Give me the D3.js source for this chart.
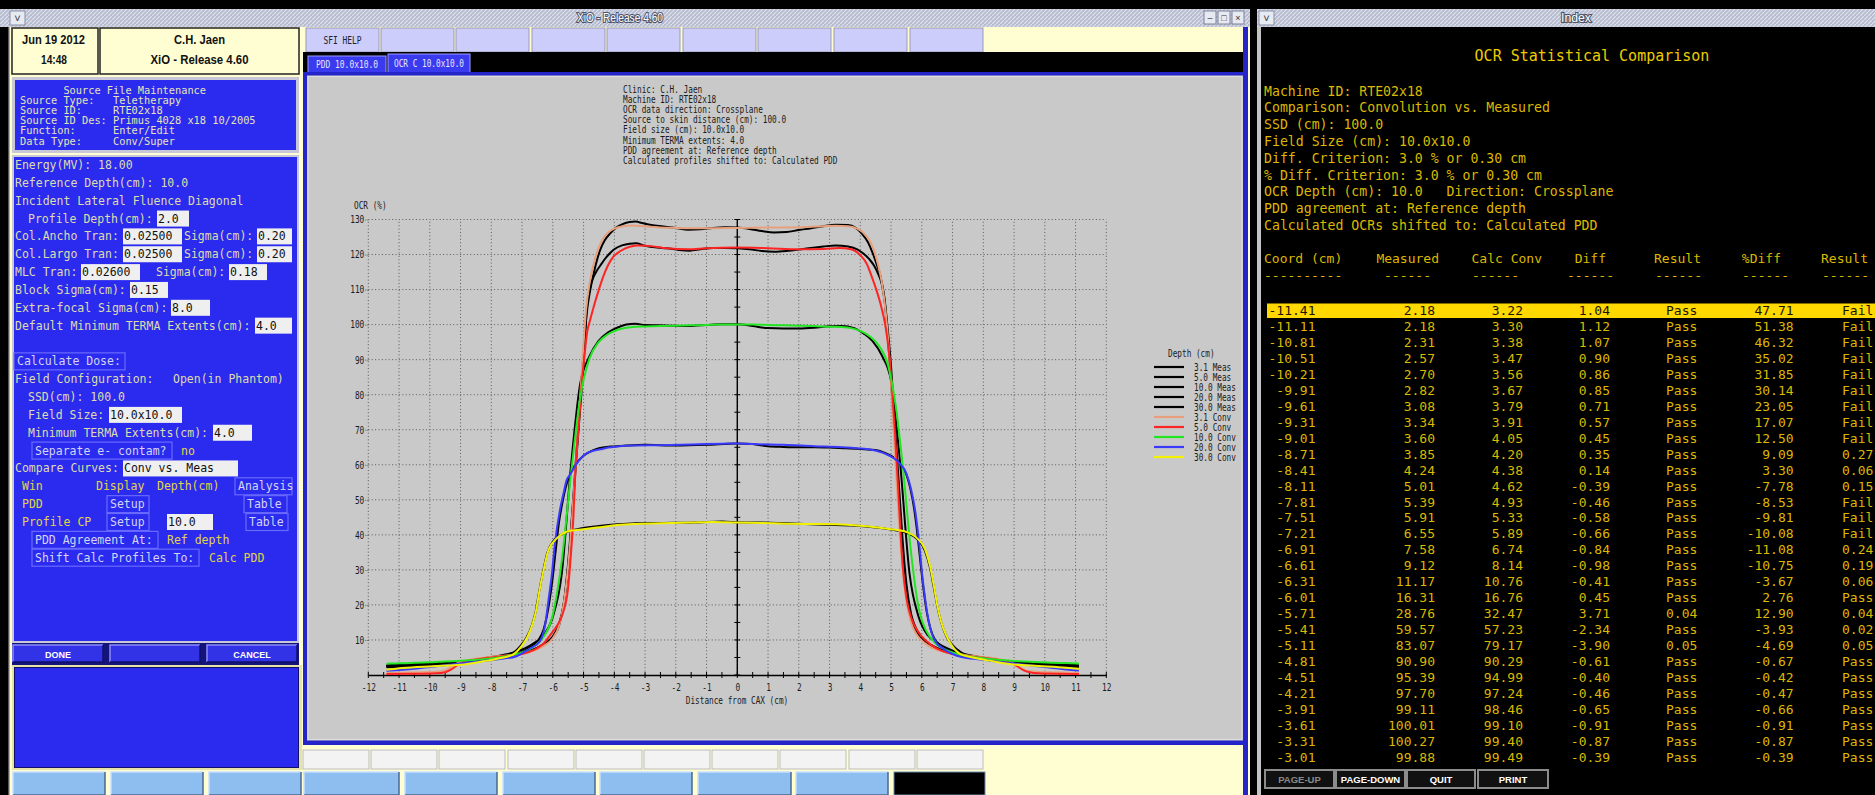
<!DOCTYPE html>
<html>
<head>
<meta charset="utf-8">
<script src="https://cdn.jsdelivr.net/npm/d3@7"></script>
<style>
  body { margin: 0; background: #000; overflow: hidden; }
  text { white-space: pre; }
</style>
</head>
<body>
<svg id="scr" width="1875" height="795"></svg>
<script>
// ---- chart data ----
var depthLabels = ["3.1", "5.0", "10.0", "20.0", "30.0"];
var convColors = ["#e8a07c", "#ff2424", "#22e622", "#3a3aff", "#f2f200"];

var meas31 = [[-11.41,2.6],[-10.8,2.9],[-10.2,3.1],[-9.6,3.4],[-9.0,3.8],[-8.4,4.4],[-7.8,5.1],[-7.4,5.6],[-7.0,6.3],[-6.6,7.4],[-6.3,8.8],[-6.0,11],[-5.8,14.5],[-5.65,20],[-5.5,32],[-5.38,45],[-5.25,61],[-5.12,77],[-5.0,92],[-4.9,103],[-4.78,110],[-4.67,114.6],[-4.56,118.5],[-4.46,121.3],[-4.3,124.2],[-4.14,126],[-3.95,127.6],[-3.75,128.6],[-3.5,129.3],[-3.3,129.4],[-3.1,129],[-2.8,128.4],[-2.4,128],[-2.0,127.6],[-1.6,127.1],[-1.2,127.2],[-0.8,127.6],[-0.4,127.8],[0,127.7],[0.4,127.3],[0.8,126.7],[1.2,126.3],[1.6,126.4],[2.0,127],[2.4,127.5],[2.8,128.1],[3.2,128.5],[3.6,128.4],[3.85,127.6],[4.05,126],[4.25,123.5],[4.4,120.5],[4.52,117.5],[4.65,114],[4.78,108],[4.9,98],[5.0,88],[5.12,72],[5.25,55],[5.38,38],[5.5,26],[5.65,17.5],[5.8,13.5],[6.0,10.8],[6.3,8.6],[6.6,7.3],[7.0,6.2],[7.4,5.5],[7.8,5.0],[8.4,4.3],[9.0,3.7],[9.6,3.3],[10.2,3.0],[10.8,2.7],[11.11,2.5]];
var conv31 = [[-11.41,0.6],[-10.6,0.7],[-9.8,0.9],[-9.5,1.3],[-9.3,2.4],[-9.1,3.4],[-8.8,4.2],[-8.4,4.8],[-8.0,5.2],[-7.5,5.6],[-7.0,6.1],[-6.6,7.0],[-6.3,8.3],[-6.0,10.5],[-5.8,14],[-5.65,20],[-5.5,31],[-5.38,44],[-5.25,61],[-5.12,78],[-5.02,92],[-4.92,104],[-4.8,112],[-4.68,117],[-4.55,121],[-4.4,124],[-4.2,126.3],[-4.0,127.4],[-3.7,128.1],[-3.4,128.3],[-3.0,128.0],[-2.5,127.7],[-2.0,127.6],[-1.0,127.5],[0,127.6],[1.0,127.7],[2.0,127.8],[2.6,128.0],[3.2,128.2],[3.6,128.1],[3.9,127.4],[4.1,126.2],[4.3,124],[4.45,121],[4.58,117],[4.7,112],[4.82,104],[4.92,94],[5.02,80],[5.12,64],[5.25,45],[5.38,30],[5.5,21],[5.65,15],[5.8,12],[6.0,9.8],[6.3,7.9],[6.6,6.9],[7.0,6.1],[7.5,5.6],[8.0,5.1],[8.4,4.7],[8.8,4.0],[9.0,3.2],[9.2,2.0],[9.4,1.3],[9.7,0.9],[10.5,0.7],[11.11,0.6]];
var meas50 = [[-11.41,2.5],[-10.8,2.8],[-10.2,3.0],[-9.6,3.3],[-9.0,3.7],[-8.4,4.3],[-7.8,5.0],[-7.4,5.5],[-7.0,6.2],[-6.6,7.3],[-6.3,8.6],[-6.0,10.8],[-5.8,14],[-5.65,20],[-5.5,31],[-5.38,44],[-5.25,60],[-5.12,75],[-5.02,86],[-4.89,105],[-4.78,110.8],[-4.67,113.7],[-4.56,115.5],[-4.46,116.8],[-4.3,118.8],[-4.15,120.3],[-4.0,121.5],[-3.75,122.6],[-3.5,123.1],[-3.3,123.2],[-3.0,122.5],[-2.6,122],[-2.3,121.8],[-1.9,121.3],[-1.54,121.1],[-1.2,121.5],[-0.8,121.9],[-0.4,121.9],[0,121.8],[0.4,121.5],[0.8,121.0],[1.2,120.8],[1.6,121.0],[2.0,121.4],[2.4,121.9],[2.8,122.3],[3.2,122.6],[3.6,122.3],[3.9,121.5],[4.1,120.3],[4.3,118.6],[4.45,116.8],[4.58,114.5],[4.7,111.5],[4.8,106],[4.9,96],[5.0,84],[5.12,68],[5.25,50],[5.38,34],[5.5,24],[5.65,16.5],[5.8,13],[6.0,10.5],[6.3,8.5],[6.6,7.2],[7.0,6.1],[7.4,5.4],[7.8,4.9],[8.4,4.2],[9.0,3.6],[9.6,3.2],[10.2,2.9],[10.8,2.6],[11.11,2.4]];
var conv50 = [[-11.41,0.3],[-10.5,0.35],[-9.8,0.5],[-9.5,0.8],[-9.3,1.6],[-9.1,2.8],[-8.9,3.7],[-8.5,4.4],[-8.0,5.0],[-7.5,5.5],[-7.0,6.0],[-6.65,7.0],[-6.3,9.0],[-6.0,12.4],[-5.8,15],[-5.67,17.7],[-5.51,24.3],[-5.4,35.7],[-5.33,45],[-5.26,59.4],[-5.15,72],[-5.05,84.2],[-4.97,91],[-4.89,97.5],[-4.78,101.5],[-4.67,105.1],[-4.52,109.5],[-4.36,113.7],[-4.2,117],[-4.03,119.4],[-3.8,121],[-3.5,122.2],[-3.2,122.6],[-2.8,122.4],[-2.3,121.8],[-1.6,121.5],[-1.0,121.8],[0,122],[1.0,121.8],[2.0,121.5],[2.8,121.6],[3.3,121.9],[3.7,121.5],[4.0,119.8],[4.2,117.5],[4.36,114],[4.52,110],[4.67,105.5],[4.8,100.5],[4.92,93],[5.02,83],[5.12,70],[5.22,55],[5.3,42],[5.38,31],[5.5,22],[5.65,16.5],[5.8,13.5],[6.0,11],[6.3,8.6],[6.65,6.9],[7.0,6.0],[7.5,5.4],[8.0,4.9],[8.5,4.3],[8.9,3.5],[9.1,2.5],[9.3,1.4],[9.5,0.8],[9.8,0.5],[10.5,0.35],[11.11,0.3]];
var meas10Rest = [[-2.6,99.8],[-2.2,99.7],[-1.8,99.6],[-1.4,99.7],[-1.0,99.9],[-0.5,100.1],[0,100.1],[0.5,99.6],[1.0,99.0],[1.5,98.9],[2.0,98.9],[2.5,99.1],[3.0,99.5],[3.4,99.6],[3.8,99.0],[4.1,97.5],[4.4,95.3],[4.7,91.2],[5.0,84],[5.3,60],[5.6,29],[5.9,16.5],[6.2,11.3],[6.5,9.2],[6.8,7.7],[7.1,6.6],[7.4,5.9],[7.7,5.4],[8.0,5.0],[8.3,4.3],[8.6,3.9],[8.9,3.6],[9.2,3.3],[9.5,3.1],[9.8,2.8],[10.1,2.7],[10.4,2.5],[10.7,2.3],[11.11,2.2]];
var conv10Rest = [[-2.5,99.6],[-2.0,99.7],[-1.5,99.8],[-1.0,99.9],[-0.5,100.0],[0,100.0],[0.5,100.0],[1.0,99.9],[1.5,99.8],[2.0,99.7],[2.5,99.6],[3.01,99.4],[3.4,99.3],[3.7,99.0],[4.0,98.2],[4.3,96.7],[4.6,94.0],[4.9,88.5],[5.15,77],[5.4,58],[5.65,35],[5.9,19],[6.15,12.5],[6.45,9.0],[6.75,7.3],[7.05,6.3],[7.4,5.5],[7.8,5.0],[8.2,4.6],[8.7,4.2],[9.2,3.9],[9.7,3.7],[10.2,3.5],[10.7,3.4],[11.11,3.3]];
var meas20 = [[-11.41,2.4],[-10.5,2.8],[-9.8,3.1],[-9.0,3.6],[-8.4,4.1],[-7.8,4.8],[-7.4,5.4],[-7.0,6.6],[-6.8,7.6],[-6.6,8.8],[-6.45,10.2],[-6.3,13],[-6.2,16.5],[-6.1,21.5],[-6.0,28],[-5.9,36],[-5.8,43.5],[-5.68,49.5],[-5.55,54.5],[-5.4,58],[-5.2,60.8],[-5.0,62.6],[-4.8,63.7],[-4.5,64.7],[-4.1,65.2],[-3.6,65.5],[-3.0,65.7],[-2.0,65.5],[-1.0,65.7],[0,66.1],[0.5,65.9],[1.0,65.3],[1.5,65.1],[2.0,65.0],[2.5,65.0],[3.0,64.9],[3.5,64.7],[4.0,64.5],[4.5,64.2],[4.8,63.4],[5.1,62.0],[5.3,60.3],[5.5,57.2],[5.62,53.5],[5.75,47.5],[5.86,40],[5.97,31],[6.07,23.5],[6.17,17.5],[6.28,13.3],[6.42,10.2],[6.6,8.4],[6.85,7.0],[7.2,5.9],[7.6,5.2],[8.1,4.6],[8.6,4.1],[9.2,3.6],[9.8,3.2],[10.4,2.9],[11.11,2.5]];
var conv20 = [[-11.41,1.2],[-10.5,1.8],[-10.0,2.3],[-9.5,2.8],[-9.0,3.3],[-8.5,3.8],[-8.0,4.3],[-7.6,4.7],[-7.2,5.3],[-6.76,7.5],[-6.43,9.5],[-6.25,14.3],[-6.14,21.4],[-6.04,28],[-5.93,37.6],[-5.77,47],[-5.66,51.5],[-5.55,55.6],[-5.44,57.2],[-5.22,60.4],[-5.05,62.2],[-4.89,63.3],[-4.68,64.0],[-4.46,64.4],[-4.2,64.9],[-3.92,65.2],[-3.38,65.5],[-2.5,65.6],[-1.5,65.8],[-0.5,66.0],[0,66.1],[0.5,65.9],[1.5,65.7],[2.5,65.3],[3.4,65.0],[3.9,64.7],[4.4,64.2],[4.8,63.2],[5.1,61.8],[5.3,60.2],[5.5,57.5],[5.65,53],[5.8,46],[5.92,37],[6.02,28],[6.12,21],[6.22,15.5],[6.32,12],[6.45,9.5],[6.7,7.5],[7.0,6.0],[7.3,5.1],[7.7,4.6],[8.2,4.1],[8.7,3.6],[9.2,3.1],[9.7,2.6],[10.2,2.1],[10.7,1.6],[11.11,1.3]];
var meas30 = [[-11.41,2.8],[-10.5,3.1],[-9.6,3.4],[-8.8,3.8],[-8.2,4.3],[-7.7,5.0],[-7.3,6.2],[-7.05,8.3],[-6.85,10.8],[-6.68,14.2],[-6.56,18],[-6.45,23.5],[-6.33,29],[-6.18,34.8],[-5.95,38.6],[-5.6,40.6],[-5.1,41.8],[-4.5,42.5],[-3.9,43.0],[-3.3,43.3],[-2.4,43.4],[-1.4,43.5],[-0.5,43.8],[0,43.6],[0.8,43.5],[1.6,43.3],[2.4,43.0],[3.2,42.8],[3.9,42.6],[4.5,42.1],[5.0,41.5],[5.5,40.6],[5.85,38.8],[6.1,35.5],[6.27,30.5],[6.4,24.5],[6.52,19],[6.65,14.5],[6.8,11],[7.0,8.5],[7.3,6.3],[7.7,5.2],[8.2,4.4],[8.9,3.8],[9.8,3.3],[10.6,3.0],[11.11,2.8]];
var conv30 = [[-11.41,1.5],[-10.9,2.0],[-9.9,2.5],[-9.0,2.9],[-8.27,3.9],[-7.73,4.8],[-7.3,5.8],[-7.03,8.1],[-6.82,11],[-6.65,14.8],[-6.54,18.6],[-6.43,24.3],[-6.3,30],[-6.14,35.7],[-5.87,39],[-5.55,40.9],[-5.0,41.6],[-4.46,42.2],[-3.9,42.8],[-3.38,43.1],[-2.5,43.3],[-1.5,43.5],[-0.8,43.7],[0,43.5],[0.8,43.4],[1.6,43.2],[2.4,43.1],[3.2,43.0],[3.9,42.7],[4.5,42.2],[5.0,41.6],[5.5,40.8],[5.85,39],[6.1,36],[6.27,31],[6.4,25],[6.5,20],[6.62,15.5],[6.78,11.5],[6.98,8.4],[7.25,6.0],[7.7,4.9],[8.2,4.1],[8.9,3.1],[9.8,2.6],[10.7,2.1],[11.11,1.8]];

var xTicks = d3.range(-12, 13, 1);
var yTicks = d3.range(10, 131, 10);

// ---- statistics table (Index window) ----
var tableCoord = [-11.41,-11.11,-10.81,-10.51,-10.21,-9.91,-9.61,-9.31,-9.01,-8.71,-8.41,-8.11,-7.81,-7.51,-7.21,-6.91,-6.61,-6.31,-6.01,-5.71,-5.41,-5.11,-4.81,-4.51,-4.21,-3.91,-3.61,-3.31,-3.01];
var tableMeasured = [2.18,2.18,2.31,2.57,2.70,2.82,3.08,3.34,3.60,3.85,4.24,5.01,5.39,5.91,6.55,7.58,9.12,11.17,16.31,28.76,59.57,83.07,90.90,95.39,97.70,99.11,100.01,100.27,99.88];
var tableCalc = [3.22,3.30,3.38,3.47,3.56,3.67,3.79,3.91,4.05,4.20,4.38,4.62,4.93,5.33,5.89,6.74,8.14,10.76,16.76,32.47,57.23,79.17,90.29,94.99,97.24,98.46,99.10,99.40,99.49];
var tableDiff = [1.04,1.12,1.07,0.90,0.86,0.85,0.71,0.57,0.45,0.35,0.14,-0.39,-0.46,-0.58,-0.66,-0.84,-0.98,-0.41,0.45,3.71,-2.34,-3.90,-0.61,-0.40,-0.46,-0.65,-0.91,-0.87,-0.39];
var tableResult = ["Pass","Pass","Pass","Pass","Pass","Pass","Pass","Pass","Pass","Pass","Pass","Pass","Pass","Pass","Pass","Pass","Pass","Pass","Pass","0.04","Pass","0.05","Pass","Pass","Pass","Pass","Pass","Pass","Pass"];
var tablePctDiff = [47.71,51.38,46.32,35.02,31.85,30.14,23.05,17.07,12.50,9.09,3.30,-7.78,-8.53,-9.81,-10.08,-11.08,-10.75,-3.67,2.76,12.90,-3.93,-4.69,-0.67,-0.42,-0.47,-0.66,-0.91,-0.87,-0.39];
var tableResult2 = ["Fail","Fail","Fail","Fail","Fail","Fail","Fail","Fail","Fail","0.27","0.06","0.15","Fail","Fail","Fail","0.24","0.19","0.06","Pass","0.04","0.02","0.05","Pass","Pass","Pass","Pass","Pass","Pass","Pass"];

var MONO = "'DejaVu Sans Mono', monospace";
var SANS = "'Liberation Sans', Arial, sans-serif";

var svg = d3.select("#scr");
svg.append("rect").attr("width", 1875).attr("height", 795).attr("fill", "#000");

var defs = svg.append("defs");
var hatch = defs.append("pattern").attr("id", "hatch").attr("patternUnits", "userSpaceOnUse")
  .attr("width", 4).attr("height", 4);
hatch.append("rect").attr("width", 4).attr("height", 4).attr("fill", "#b7bccf");
hatch.append("path").attr("d", "M0,4 L4,0").attr("stroke", "#dfe2ee").attr("stroke-width", 1.2);

var ui = svg.append("g");

function rect(x, y, w, h, fill, stroke, sw) {
  return ui.append("rect").attr("x", x).attr("y", y).attr("width", w).attr("height", h)
    .attr("fill", fill).attr("stroke", stroke || "none").attr("stroke-width", sw || 1);
}
function label(x, y, s, o) {
  o = o || {};
  var t = ui.append("text").attr("x", x).attr("y", y).text(s)
    .attr("font-family", o.font || MONO).attr("font-size", o.size || 11.5)
    .attr("fill", o.color || "#000").attr("text-anchor", o.anchor || "start");
  if (o.weight) t.attr("font-weight", o.weight);
  if (o.len) t.attr("textLength", o.len).attr("lengthAdjust", "spacingAndGlyphs");
  return t;
}
// bevelled button
function button(x, y, w, h, fill, light, dark) {
  rect(x, y, w, h, fill);
  ui.append("path").attr("d", "M" + x + "," + (y + h) + "V" + y + "H" + (x + w))
    .attr("fill", "none").attr("stroke", light).attr("stroke-width", 1.5);
  ui.append("path").attr("d", "M" + x + "," + (y + h) + "H" + (x + w) + "V" + y)
    .attr("fill", "none").attr("stroke", dark).attr("stroke-width", 1.5);
}

// ---------- title bars ----------
rect(0, 9, 1250, 18, "url(#hatch)");
rect(10, 11, 15, 14, "#e8eaf2", "#8890a8");
label(17.5, 22, "\u02c5", {font: SANS, size: 11, color: "#334", anchor: "middle"});
label(620, 22, "XiO - Release 4.60", {font: SANS, size: 12, color: "#fff", anchor: "middle", len: 86})
  .attr("stroke", "#505468").attr("stroke-width", 2.2).attr("paint-order", "stroke");
[1204, 1218, 1232].forEach(function (bx, i) {
  rect(bx, 11, 12, 13, "#e8eaf2", "#7a8098");
  label(bx + 6, 21, ["\u2013", "\u25a1", "\u00d7"][i], {font: SANS, size: 9, color: "#333", anchor: "middle"});
});
rect(1257, 9, 618, 18, "url(#hatch)");
rect(1259, 11, 15, 14, "#e8eaf2", "#8890a8");
label(1266.5, 22, "\u02c5", {font: SANS, size: 11, color: "#334", anchor: "middle"});
label(1576, 22, "Index", {font: SANS, size: 12, color: "#fff", anchor: "middle", len: 30})
  .attr("stroke", "#505468").attr("stroke-width", 2.2).attr("paint-order", "stroke");

// ---------- XiO body ----------
rect(10, 27, 1240, 768, "#fffed2");
rect(8.5, 27, 1.5, 768, "#b0b0b0");
rect(1243, 27, 5, 768, "#2424c8");
rect(1248, 27, 2, 768, "#fffed2");

// info boxes
rect(12, 28, 86, 46, "#fffed2", "#222", 1.5);
rect(100, 28, 199, 46, "#fffed2", "#222", 1.5);
label(53.5, 44, "Jun 19 2012", {font: SANS, size: 13.5, weight: "bold", len: 63, anchor: "middle", color: "#111"});
label(54, 64, "14:48", {font: SANS, size: 13.5, weight: "bold", len: 26, anchor: "middle", color: "#111"});
label(199.5, 44, "C.H. Jaen", {font: SANS, size: 13.5, weight: "bold", len: 51, anchor: "middle", color: "#111"});
label(199.5, 64, "XiO - Release 4.60", {font: SANS, size: 13.5, weight: "bold", len: 98, anchor: "middle", color: "#111"});

var BLUE = "#2b2bef";
var PALE = "#dedcae";
var YEL = "#e2d444";
var BTN = "#d4d4f4";

// source file panel
rect(12, 77, 287, 76, "#c8c8d8");
rect(15, 80, 281, 70, BLUE);
var srcLines = ["       Source File Maintenance", "Source Type:   Teletherapy", "Source ID:     RTE02x18",
  "Source ID Des: Primus 4028 x18 10/2005", "Function:      Enter/Edit", "Data Type:     Conv/Super"];
srcLines.forEach(function (s, i) {
  label(20, 94 + i * 10.1, s, {size: 10.3, color: "#e6e4b4"});
});

// main parameter panel
rect(12, 155, 287, 488, "#c8c8d8");
rect(14, 157, 283, 484, BLUE);

function lineY(i) { return 165 + i * 17.85 + 4; }
function input(x0, x1, i, s) {
  var cy = lineY(i) - 4;
  rect(x0, cy - 8, x1 - x0, 16, "#efefef");
  label(x0 + 1, cy + 4, s, {color: "#111"});
}
function btn(x0, x1, i, s) {
  var cy = lineY(i) - 4;
  rect(x0, cy - 8.5, x1 - x0, 17, BLUE, "#6a6aff", 1.2);
  label(x0 + 3, cy + 4, s, {color: BTN});
}
label(15, lineY(0), "Energy(MV): 18.00", {color: PALE});
label(15, lineY(1), "Reference Depth(cm): 10.0", {color: PALE});
label(15, lineY(2), "Incident Lateral Fluence Diagonal", {color: PALE});
label(28, lineY(3), "Profile Depth(cm):", {color: PALE}); input(157, 189, 3, "2.0");
label(15, lineY(4), "Col.Ancho Tran:", {color: PALE}); input(123, 182, 4, "0.02500");
label(184, lineY(4), "Sigma(cm):", {color: PALE}); input(257, 292, 4, "0.20");
label(15, lineY(5), "Col.Largo Tran:", {color: PALE}); input(123, 182, 5, "0.02500");
label(184, lineY(5), "Sigma(cm):", {color: PALE}); input(257, 292, 5, "0.20");
label(15, lineY(6), "MLC Tran:", {color: PALE}); input(81, 140, 6, "0.02600");
label(156, lineY(6), "Sigma(cm):", {color: PALE}); input(229, 267, 6, "0.18");
label(15, lineY(7), "Block Sigma(cm):", {color: PALE}); input(130, 168, 7, "0.15");
label(15, lineY(8), "Extra-focal Sigma(cm):", {color: PALE}); input(171, 210, 8, "8.0");
label(15, lineY(9), "Default Minimum TERMA Extents(cm):", {color: PALE}); input(255, 292, 9, "4.0");
btn(14, 125, 11, "Calculate Dose:");
label(15, lineY(12), "Field Configuration:", {color: PALE});
label(173, lineY(12), "Open(in Phantom)", {color: PALE});
label(28, lineY(13), "SSD(cm): 100.0", {color: PALE});
label(28, lineY(14), "Field Size:", {color: PALE}); input(109, 182, 14, "10.0x10.0");
label(28, lineY(15), "Minimum TERMA Extents(cm):", {color: PALE}); input(213, 252, 15, "4.0");
btn(32, 172, 16, "Separate e- contam?");
label(181, lineY(16), "no", {color: YEL});
label(15, lineY(17), "Compare Curves:", {color: PALE}); input(123, 238, 17, "Conv vs. Meas");
label(22, lineY(18), "Win", {color: YEL});
label(96, lineY(18), "Display", {color: YEL});
label(157, lineY(18), "Depth(cm)", {color: YEL});
btn(235, 292, 18, "Analysis");
label(22, lineY(19), "PDD", {color: YEL});
btn(107, 149, 19, "Setup"); btn(244, 287, 19, "Table");
label(22, lineY(20), "Profile CP", {color: YEL});
btn(107, 149, 20, "Setup"); input(167, 213, 20, "10.0"); btn(246, 288, 20, "Table");
btn(32, 158, 21, "PDD Agreement At:");
label(167, lineY(21), "Ref depth", {color: YEL});
btn(32, 199, 22, "Shift Calc Profiles To:");
label(209, lineY(22), "Calc PDD", {color: YEL});

// done / cancel row
rect(12, 643, 287, 22, "#14147a");
[[13, 103, "DONE"], [110, 200, ""], [207, 297, "CANCEL"]].forEach(function (b) {
  button(b[0], 645, b[1] - b[0], 17, "#3232e6", "#8c8cff", "#10106a");
  if (b[2]) label((b[0] + b[1]) / 2, 657.5, b[2], {font: SANS, size: 9, weight: "bold", color: "#fff", anchor: "middle"});
});
rect(12, 665, 290, 105, "#e6e2a8");
rect(14.5, 667.5, 284, 100, BLUE, "#10106a", 1);

// top button row
[306, 381, 456, 532, 607, 683, 758, 834, 910].forEach(function (bx, i) {
  rect(bx, 28, 73, 24, "#cdcdfb", "#9a9ab4", 1);
  if (i === 0) label(bx + 36.5, 44, "SFI HELP", {font: MONO, size: 10, color: "#222", anchor: "middle", len: 38});
});

// tabs
rect(303, 52, 940, 21, "#000");
rect(308, 56, 78, 17, "#3a3aee", "#9c9cff", 1);
label(347, 68, "PDD 10.0x10.0", {size: 10, color: "#e8e8ff", anchor: "middle", len: 62});
rect(388, 54, 82, 19, "#3a3aee", "#9c9cff", 1);
label(429, 67, "OCR C 10.0x10.0", {size: 10, color: "#e8e8ff", anchor: "middle", len: 70});

// chart frame
rect(303, 72, 940, 673, "#2424c8");
rect(307, 75.5, 936, 665, "#c9c9c9");
rect(308, 76.5, 934, 663, "none", "#dedede", 1);

// grey button row under the chart
[303, 371, 439, 508, 576, 644, 712, 780, 849, 917].forEach(function (bx) {
  rect(bx, 750, 66, 19, "#f3f3f3", "#bdbdbd", 1);
});

// bottom light-blue buttons
[[13, 105], [111, 203], [209, 301], [304, 399], [405, 497], [503, 595], [600, 692], [698, 791], [796, 888]].forEach(function (b) {
  button(b[0], 772, b[1] - b[0], 23, "#8ebef0", "#c8e0ff", "#4a6a90");
});
rect(894, 772, 91, 23, "#000", "#6a8ab0", 1);

// ---------- Index window ----------
rect(1257, 27, 4, 768, "#c4c4c4");
var AMB = "#dcb800";
label(1592, 61, "OCR Statistical Comparison", {size: 15, color: "#eccc00", anchor: "middle"});
var infoLines = ["Machine ID: RTE02x18", "Comparison: Convolution vs. Measured", "SSD (cm): 100.0",
  "Field Size (cm): 10.0x10.0", "Diff. Criterion: 3.0 % or 0.30 cm", "% Diff. Criterion: 3.0 % or 0.30 cm",
  "OCR Depth (cm): 10.0   Direction: Crossplane", "PDD agreement at: Reference depth",
  "Calculated OCRs shifted to: Calculated PDD"];
infoLines.forEach(function (s, i) {
  label(1264, 95.5 + i * 16.8, s, {size: 13.2, color: AMB});
});
var headers = [[1264, "Coord (cm)", "start"], [1439, "Measured", "end"], [1542, "Calc Conv", "end"],
  [1606, "Diff", "end"], [1654, "Result", "start"], [1781, "%Diff", "end"], [1821, "Result", "start"]];
headers.forEach(function (h) { label(h[0], 262.5, h[1], {size: 13, color: AMB, anchor: h[2]}); });
var dashes = [[1264, 10], [1384, 6], [1472, 6], [1567, 6], [1655, 6], [1742, 6], [1822, 6]];
dashes.forEach(function (d) { label(d[0], 279.5, "-".repeat(d[1]), {size: 13, color: AMB}); });

rect(1267, 303.5, 608, 14.5, "#ffd800");
tableCoord.forEach(function (c, i) {
  var by = 315 + i * 15.96;
  var col = i === 0 ? "#1a1400" : AMB;
  label(1315.5, by, c.toFixed(2), {size: 13, color: col, anchor: "end"});
  label(1435, by, tableMeasured[i].toFixed(2), {size: 13, color: col, anchor: "end"});
  label(1523, by, tableCalc[i].toFixed(2), {size: 13, color: col, anchor: "end"});
  label(1610, by, tableDiff[i].toFixed(2), {size: 13, color: col, anchor: "end"});
  label(1666, by, tableResult[i], {size: 13, color: col});
  label(1793.6, by, tablePctDiff[i].toFixed(2), {size: 13, color: col, anchor: "end"});
  label(1842, by, tableResult2[i], {size: 13, color: col});
});
[[1265, 1334, "PAGE-UP", "#8a8a8a"], [1336, 1405, "PAGE-DOWN", "#fff"], [1407, 1475, "QUIT", "#fff"], [1478, 1548, "PRINT", "#fff"]]
  .forEach(function (b) {
    rect(b[0], 770, b[1] - b[0], 18, "#111", "#8c8c8c", 2);
    label((b[0] + b[1]) / 2, 783, b[2], {font: SANS, size: 9.5, weight: "bold", color: b[3], anchor: "middle"});
  });

// ---------- OCR plot ----------
var x = d3.scaleLinear().domain([-12, 12]).range([368.3, 1106.3]);
var y = d3.scaleLinear().domain([0, 130]).range([675, 219.5]);
var plot = svg.append("g");

function narrow(sel, cw) {
  sel.each(function () {
    var t = d3.select(this);
    t.attr("textLength", t.text().length * cw).attr("lengthAdjust", "spacingAndGlyphs");
  });
}

var headerLines = ["Clinic: C.H. Jaen", "Machine ID: RTE02x18", "OCR data direction: Crossplane",
  "Source to skin distance (cm): 100.0", "Field size (cm): 10.0x10.0", "Minimum TERMA extents: 4.0",
  "PDD agreement at: Reference depth", "Calculated profiles shifted to: Calculated PDD"];
plot.append("g").selectAll("text").data(headerLines).join("text")
  .attr("x", 623).attr("y", function (d, i) { return 93 + i * 10.1; })
  .attr("font-family", MONO).attr("font-size", 10.5).attr("fill", "#1a1a1a")
  .text(function (d) { return d; })
  .call(narrow, 4.66);

// dotted grid
plot.append("g").selectAll("line").data(xTicks).join("line")
  .attr("x1", function (d) { return x(d); }).attr("x2", function (d) { return x(d); })
  .attr("y1", y(0)).attr("y2", y(130))
  .attr("stroke", "#5a5a5a").attr("stroke-width", 1).attr("stroke-dasharray", "1,2.4");
plot.append("g").selectAll("line").data(yTicks).join("line")
  .attr("x1", x(-12)).attr("x2", x(12))
  .attr("y1", function (d) { return y(d); }).attr("y2", function (d) { return y(d); })
  .attr("stroke", "#5a5a5a").attr("stroke-width", 1).attr("stroke-dasharray", "1,2.4");

// x axis along OCR = 0
var gx = plot.append("g").attr("transform", "translate(0," + y(0) + ")")
  .call(d3.axisBottom(x).tickValues(xTicks).tickSize(0).tickPadding(9).tickFormat(String));
gx.select(".domain").attr("stroke", "#000").attr("stroke-width", 1.4);
gx.selectAll("text").attr("font-family", MONO).attr("font-size", 10.5).attr("fill", "#1a1a1a").call(narrow, 4.7);
plot.append("g").selectAll("line").data(d3.range(-12, 12.01, 0.5)).join("line")
  .attr("x1", function (d) { return x(d); }).attr("x2", function (d) { return x(d); })
  .attr("y1", y(0) - 3).attr("y2", y(0) + 3).attr("stroke", "#000");

// y labels on the left
var gy = plot.append("g").attr("transform", "translate(" + x(-12) + ",0)")
  .call(d3.axisLeft(y).tickValues(yTicks).tickSize(3).tickPadding(1).tickFormat(String));
gy.select(".domain").remove();
gy.selectAll(".tick line").attr("stroke", "#5a5a5a").attr("stroke-dasharray", "1,1");
gy.selectAll("text").attr("font-family", MONO).attr("font-size", 10.5).attr("fill", "#1a1a1a").call(narrow, 4.7);

// central axis at 0 cm
plot.append("line").attr("x1", x(0)).attr("x2", x(0)).attr("y1", y(0)).attr("y2", y(130))
  .attr("stroke", "#000").attr("stroke-width", 1.4);
plot.append("g").selectAll("line").data(d3.range(0, 131, 5)).join("line")
  .attr("x1", x(0) - 3).attr("x2", x(0) + 3)
  .attr("y1", function (d) { return y(d); }).attr("y2", function (d) { return y(d); })
  .attr("stroke", "#000");

plot.append("text").attr("x", 737).attr("y", 704).attr("text-anchor", "middle")
  .attr("font-family", MONO).attr("font-size", 10.5).attr("fill", "#1a1a1a")
  .text("Distance from CAX (cm)").call(narrow, 4.66);
plot.append("text").attr("x", 354).attr("y", 209)
  .attr("font-family", MONO).attr("font-size", 10.5).attr("fill", "#1a1a1a")
  .text("OCR (%)").call(narrow, 4.66);

// curves
var meas10 = d3.zip(tableCoord, tableMeasured).concat(meas10Rest);
var conv10 = d3.zip(tableCoord, tableCalc).concat(conv10Rest);
var measured = [meas31, meas50, meas10, meas20, meas30];
var converted = [conv31, conv50, conv10, conv20, conv30];

var line = d3.line()
  .x(function (d) { return x(d[0]); })
  .y(function (d) { return y(d[1]); })
  .curve(d3.curveMonotoneX);

plot.append("g").selectAll("path").data(measured).join("path")
  .attr("d", line).attr("fill", "none").attr("stroke", "#000").attr("stroke-width", 2);
plot.append("g").selectAll("path").data(converted).join("path")
  .attr("d", line).attr("fill", "none")
  .attr("stroke", function (d, i) { return convColors[i]; }).attr("stroke-width", 2);

// legend
var legendItems = depthLabels.map(function (d) { return {label: d + " Meas", color: "#000"}; })
  .concat(depthLabels.map(function (d, i) { return {label: d + " Conv", color: convColors[i]}; }));
var lg = plot.append("g");
lg.append("text").attr("x", 1168).attr("y", 357).attr("font-family", MONO).attr("font-size", 10.5)
  .attr("fill", "#1a1a1a").text("Depth (cm)").call(narrow, 4.66);
var li = lg.selectAll("g").data(legendItems).join("g")
  .attr("transform", function (d, i) { return "translate(0," + (367 + i * 10) + ")"; });
li.append("line").attr("x1", 1154).attr("x2", 1184).attr("stroke", function (d) { return d.color; })
  .attr("stroke-width", 2.2);
li.append("text").attr("x", 1194).attr("y", 3.8).attr("font-family", MONO).attr("font-size", 10.5)
  .attr("fill", "#1a1a1a").text(function (d) { return d.label; }).call(narrow, 4.66);
</script>
</body>
</html>
